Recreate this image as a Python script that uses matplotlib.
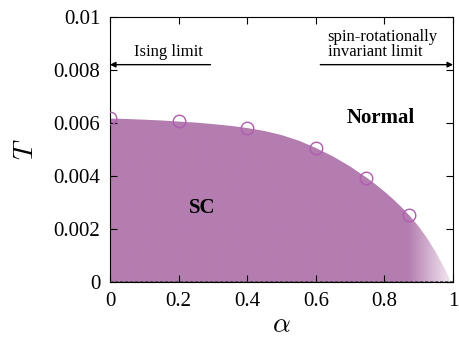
import numpy as np
import matplotlib
matplotlib.use('Agg')
import matplotlib.pyplot as plt
from matplotlib.colors import LinearSegmentedColormap

plt.rcParams['font.family'] = 'Liberation Serif'
plt.rcParams['mathtext.fontset'] = 'cm'

# phase boundary
alpha_b = [0.0, 0.05, 0.1, 0.15, 0.2, 0.25, 0.3, 0.35, 0.4, 0.45, 0.5, 0.55, 0.6,
           0.65, 0.7, 0.75, 0.775, 0.8, 0.825, 0.85, 0.875, 0.9, 0.925, 0.95,
           0.975, 0.995, 1.0]
T_b = [0.00617, 0.00615, 0.006125, 0.006095, 0.006055, 0.006015, 0.00596, 0.005895,
       0.00581, 0.0057, 0.005545, 0.005335, 0.00506, 0.00474, 0.00436, 0.00392,
       0.003677, 0.003414, 0.003129, 0.002819, 0.002481, 0.002093, 0.001643,
       0.001118, 0.000518, 0.0, 0.0]

# computed Tc points (circles)
alpha_pts = [0.0, 0.2, 0.4, 0.6, 0.747, 0.872]
T_pts = [0.0062, 0.00606, 0.00581, 0.00505, 0.00393, 0.00253]

fill_col = '#b47db0'
circ_col = '#b05cb0'

fig = plt.figure(figsize=(4.6, 3.39), dpi=100)
ax = fig.add_axes([0.239, 0.168, 0.746, 0.782])

# fill with gradient fading near alpha=1
poly = ax.fill_between(alpha_b, 0, T_b, facecolor='none', edgecolor='none')
cmap = LinearSegmentedColormap.from_list('fade', [(0, fill_col), (0.87, fill_col), (1.0, '#f6eef5')])
grad = np.linspace(0, 1, 600).reshape(1, -1)
im = ax.imshow(grad, extent=[0, 1, 0, 0.01], aspect='auto', cmap=cmap, origin='lower', zorder=1)
im.set_clip_path(poly.get_paths()[0], transform=ax.transData)

ax.plot(alpha_pts, T_pts, 'o', ms=9, mfc='none', mec=circ_col, mew=1.0, zorder=3)
ax.axhline(0, color='#444444', lw=1.2, ls=(0, (2, 1)), zorder=4)

# arrows
arr = dict(arrowstyle='-|>', color='black', lw=1.0, mutation_scale=8, shrinkA=0, shrinkB=0)
ax.annotate('', xy=(0.0, 0.0082), xytext=(0.293, 0.0082), arrowprops=arr)
ax.annotate('', xy=(1.0, 0.0082), xytext=(0.613, 0.0082), arrowprops=arr)
ax.text(0.17, 0.00866, 'Ising limit', ha='center', va='center', fontsize=12)
ax.text(0.634, 0.00896, 'spin-rotationally\ninvariant limit', ha='left', va='center',
        fontsize=12, linespacing=0.95)
ax.text(0.79, 0.0062, 'Normal', ha='center', va='center', fontsize=15, fontweight='bold')
ax.text(0.27, 0.0028, 'SC', ha='center', va='center', fontsize=15, fontweight='bold')

ax.set_xlim(0, 1)
ax.set_ylim(0, 0.01)
ax.set_xticks([0, 0.2, 0.4, 0.6, 0.8, 1.0])
ax.set_xticklabels(['0', '0.2', '0.4', '0.6', '0.8', '1'])
ax.set_yticks([0, 0.002, 0.004, 0.006, 0.008, 0.01])
ax.set_yticklabels(['0', '0.002', '0.004', '0.006', '0.008', '0.01'])
ax.tick_params(direction='in', top=True, right=True, length=5, labelsize=15, pad=7)
ax.set_xlabel(r'$\alpha$', fontsize=20, labelpad=2)
ax.set_ylabel(r'$T$', fontsize=20, labelpad=10)

fig.savefig('out.png', dpi=100)
